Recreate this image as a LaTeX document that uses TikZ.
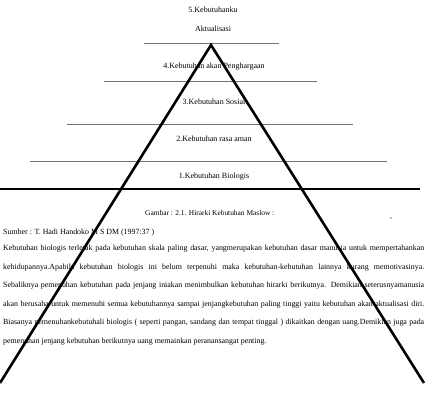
\documentclass[tikz,border=0pt]{standalone}
\usepackage{fontspec}
\setmainfont{Liberation Serif}
\begin{document}
\begin{tikzpicture}[x=1pt,y=-1pt,
  lvl/.style={inner sep=0pt, anchor=base, font=\fontsize{8}{9}\selectfont},
  body/.style={inner sep=0pt, anchor=base west, font=\fontsize{7.9}{9}\selectfont},
  capt/.style={inner sep=0pt, anchor=base west, font=\fontsize{7.4}{9}\selectfont},
  thinline/.style={draw=black!55, line width=0.9pt},
  baseline/.style={draw=black, line width=2.2pt},
  tri/.style={draw=black, line width=2.6pt, line join=miter}]
\useasboundingbox (0,0) rectangle (428,416);
% pyramid labels
\node[lvl] (t5a) at (213,12.5) {5.Kebutuhanku};
\node[lvl] (t5b) at (213,31.5) {Aktualisasi};
\node[lvl] (t4) at (214,68.5) {4.Kebutuhan akan Penghargaan};
\node[lvl] (t3) at (214,104.5) {3.Kebutuhan Sosial};
\node[lvl] (t2) at (214,141.5) {2.Kebutuhan rasa aman};
\node[lvl] (t1) at (214,178.5) {1.Kebutuhan Biologis};
% horizontal lines
\coordinate (h1l) at (144,43);  \coordinate (h1r) at (279,43);
\coordinate (h2l) at (104,81);  \coordinate (h2r) at (317,81);
\coordinate (h3l) at (67,124);  \coordinate (h3r) at (353,124);
\coordinate (h4l) at (30,161);  \coordinate (h4r) at (387,161);
\coordinate (h5l) at (0,189);   \coordinate (h5r) at (420,189);
\draw[thinline] (h1l) -- (h1r);
\draw[thinline] (h2l) -- (h2r);
\draw[thinline] (h3l) -- (h3r);
\draw[thinline] (h4l) -- (h4r);
\draw[baseline] (h5l) -- (h5r);
% caption and text
\node[capt] (cap) at (145,215.5) {Gambar : 2.1. Hirarki Kebutuhan Maslow :};
\node[capt] (comma) at (390,218) {,};
\node[body] (src) at (3,234.5) {Sumber : T. Hadi Handoko M S DM (1997:37 )};
\node[body] (p1) at (3,250.5) {\makebox[421pt][s]{Kebutuhan biologis terletak pada kebutuhan skala paling dasar, yangmerupakan kebutuhan dasar manusia untuk mempertahankan}};
\node[body] (p2) at (3,269) {\makebox[421pt][s]{kehidupannya.Apabila kebutuhan biologis ini belum terpenuhi maka kebutuhan-kebutuhan lainnya kurang memotivasinya.}};
\node[body] (p3) at (3,287.5) {\makebox[421pt][s]{Sebaliknya pemenuhan kebutuhan pada jenjang iniakan menimbulkan kebutuhan hirarki berikutnya. Demikian seterusnyamanusia}};
\node[body] (p4) at (3,306) {\makebox[421pt][s]{akan berusaha untuk memenuhi semua kebutuhannya sampai jenjangkebutuhan paling tinggi yaitu kebutuhan akan aktualisasi diri.}};
\node[body] (p5) at (3,324.5) {\makebox[421pt][s]{Biasanya pemenuhankebutuhali biologis ( seperti pangan, sandang dan tempat tinggal ) dikaitkan dengan uang.Demikian juga pada}};
\node[body] (p6) at (3,343) {pemenuhan jenjang kebutuhan berikutnya uang memainkan peranansangat penting.};
% triangle
\coordinate (apex) at (211,45);
\coordinate (bl) at (0,383);
\coordinate (br) at (424,383);
\draw[tri] (bl) -- (apex) -- (br);
\end{tikzpicture}
\end{document}
